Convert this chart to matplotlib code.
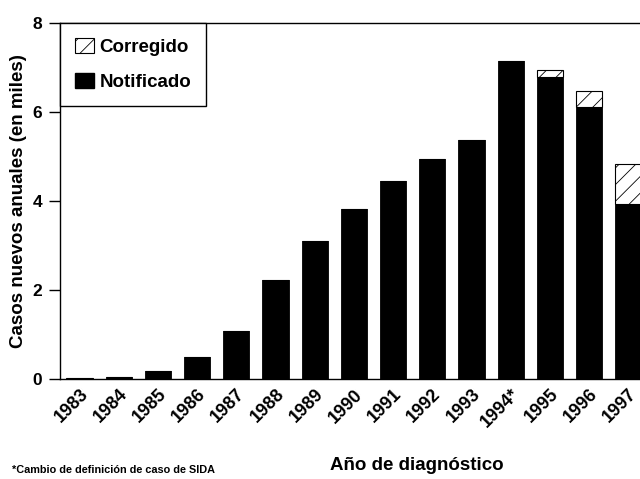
import matplotlib
matplotlib.use("Agg")
import matplotlib.pyplot as plt
import matplotlib.patches as mpatches
import matplotlib.transforms as mtransforms

plt.rcParams['font.family'] = ['Liberation Sans', 'DejaVu Sans']
plt.rcParams['font.weight'] = 'bold'
plt.rcParams['hatch.linewidth'] = 0.6

# data (thousands of new cases per year)
years = ["1983", "1984", "1985", "1986", "1987", "1988", "1989", "1990",
         "1991", "1992", "1993", "1994*", "1995", "1996", "1997"]
notificado = [0.02, 0.05, 0.18, 0.50, 1.08, 2.22, 3.09, 3.81,
              4.44, 4.93, 5.36, 7.13, 6.78, 6.11, 3.92]
corregido = [0, 0, 0, 0, 0, 0, 0, 0,
             0, 0, 0, 0, 0.16, 0.36, 0.90]

fig = plt.figure(figsize=(6.4, 4.79), dpi=100)
ax = fig.add_axes([60 / 640, 1 - 379 / 479, 1 - 60 / 640, (379 - 22.7) / 479])

x = list(range(len(years)))
ax.bar(x, notificado, width=0.67, color='black', edgecolor='black', linewidth=0.6)
ax.bar(x, corregido, width=0.67, bottom=notificado, color='white',
       edgecolor='black', hatch='//', linewidth=0.8)

ax.set_xlim(-0.5, 14.3)
ax.set_ylim(0, 8)
ax.set_yticks([0, 2, 4, 6, 8])
ax.set_xticks(x)
ax.set_xticklabels(years, rotation=45, ha='right', rotation_mode='anchor',
                   fontsize=13, fontweight='bold')
offset = mtransforms.ScaledTranslation(9 / 100, 0, fig.dpi_scale_trans)
for lab in ax.get_xticklabels():
    lab.set_transform(lab.get_transform() + offset)
ax.tick_params(axis='x', length=0, pad=5)
ax.tick_params(axis='y', length=8, width=1, direction='out', labelsize=12.5, pad=5)
for lab in ax.get_yticklabels():
    lab.set_fontweight('bold')

ax.spines['right'].set_visible(False)
for s in ['left', 'bottom', 'top']:
    ax.spines[s].set_linewidth(1.0)
    ax.spines[s].set_color('black')

ax.set_ylabel("Casos nuevos anuales (en miles)", fontsize=13.5, fontweight='bold', labelpad=4)

handles = [
    mpatches.Patch(facecolor='white', edgecolor='black', hatch='//', linewidth=0.8, label='Corregido'),
    mpatches.Patch(facecolor='black', edgecolor='black', label='Notificado'),
]
leg = ax.legend(handles=handles, loc='upper left', borderaxespad=0, fancybox=False,
                edgecolor='black', framealpha=1, fontsize=13.5, handlelength=1.0,
                handleheight=0.9, handletextpad=0.3, labelspacing=0.9, borderpad=0.8)
leg.get_frame().set_linewidth(1.0)
for t in leg.get_texts():
    t.set_fontweight('bold')

fig.text(417 / 640, 1 - 466 / 479, "Año de diagnóstico", ha='center', va='center',
         fontsize=13.5, fontweight='bold')
fig.text(12 / 640, 1 - 470 / 479, "*Cambio de definición de caso de SIDA", ha='left',
         va='center', fontsize=7.8, fontweight='bold')

fig.savefig("out.png", dpi=100)
